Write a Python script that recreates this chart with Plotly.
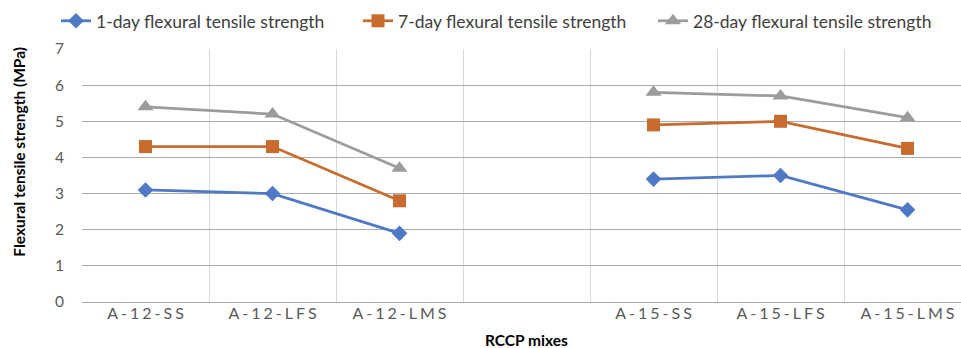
import plotly.graph_objects as go

categories = ["A-12-SS", "A-12-LFS", "A-12-LMS", " ", "A-15-SS", "A-15-LFS", "A-15-LMS"]
day1 = [3.1, 3.0, 1.9, None, 3.4, 3.5, 2.55]
day7 = [4.3, 4.3, 2.8, None, 4.9, 5.0, 4.25]
day28 = [5.4, 5.2, 3.7, None, 5.8, 5.7, 5.1]
series_names = ["1-day flexural tensile strength", "7-day flexural tensile strength",
                "28-day flexural tensile strength"]
tick_labels = ["\u2009\u200a".join(c) for c in categories]

colors = ["#4F78C6", "#C96A2E", "#9C9C9C"]
symbols = ["diamond", "square", "triangle-up"]
sizes = [12, 13, 14]
legend_ids = ["legend", "legend2", "legend3"]

FONT = "Lato"

fig = go.Figure()
for name, vals, col, sym, sz, lg in zip(series_names, [day1, day7, day28], colors, symbols,
                                         sizes, legend_ids):
    fig.add_trace(go.Scatter(
        x=categories, y=vals, name=name, mode="lines+markers",
        line=dict(color=col, width=2.75),
        marker=dict(color=col, symbol=sym, size=sz),
        connectgaps=False, legend=lg,
    ))

def leg(xpx):
    return dict(orientation="h", x=(xpx - 82) / 879, xanchor="left", y=1.111,
                yanchor="middle", font=dict(size=17.5, color="#404040"),
                bgcolor="rgba(0,0,0,0)", itemwidth=30)

fig.update_layout(
    width=961, height=348,
    margin=dict(l=82, r=0, t=49, b=46),
    paper_bgcolor="white", plot_bgcolor="white",
    font=dict(family=FONT, size=15, color="#595959"),
    showlegend=True,
    legend=leg(56), legend2=leg(358), legend3=leg(653),
    xaxis=dict(type="category", categoryorder="array", categoryarray=categories,
               tickvals=categories, ticktext=tick_labels,
               range=[-0.5, 6.421], tickson="boundaries", showgrid=True,
               gridcolor="#D9D9D9", gridwidth=1, ticks="", showline=False,
               tickfont=dict(size=16, color="#595959"), zeroline=False),
    yaxis=dict(range=[0, 7], dtick=1, showgrid=True, gridcolor="#ABABAB", gridwidth=1,
               zeroline=True, zerolinecolor="#ABABAB", zerolinewidth=1, showline=False,
               ticks="outside", ticklen=14, tickcolor="rgba(0,0,0,0)",
               tickfont=dict(size=15.5, color="#595959")),
)

fig.add_annotation(text="<b>RCCP mixes</b>", x=3, xref="x", y=-0.152, yref="paper",
                   showarrow=False, font=dict(family=FONT, size=15.5, color="#000000"),
                   yanchor="middle", xanchor="center")
fig.add_annotation(text="<b>Flexural tensile strength (MPa)</b>", x=-0.072, xref="paper",
                   y=(348 - 46 - 152) / 253, yref="paper", textangle=-90,
                   showarrow=False, font=dict(family=FONT, size=15.5, color="#000000"),
                   xanchor="center", yanchor="middle")

fig.write_html("out.html")
